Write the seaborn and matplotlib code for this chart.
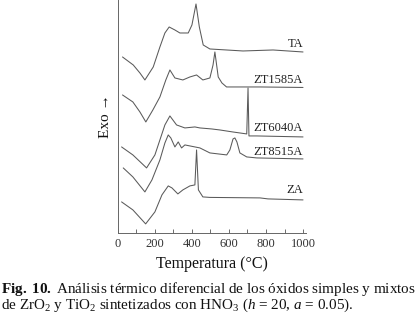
import matplotlib
matplotlib.use("Agg")
import matplotlib.pyplot as plt
import seaborn as sns

# DTA curves (temperature in °C, signal in arbitrary units incl. offset)
ta_temp = [25, 83, 119, 146, 191, 227, 254, 277, 308, 335, 380, 400, 422, 440, 461, 497, 676, 838, 1000]
ta_signal = [176, 168, 160, 153, 166, 186, 200, 206, 203, 200, 200, 208, 229, 206, 188, 184, 182, 183, 181]

zt1585_temp = [25, 81, 119, 151, 189, 227, 259, 281, 308, 351, 389, 425, 459, 497, 514, 524, 542, 562, 587, 768, 1000]
zt1585_signal = [138, 131, 121, 111, 123, 136, 153, 163, 155, 153, 156, 158, 153, 155, 168, 181, 156, 150, 146, 146, 145.5]

zt6040_temp = [20, 81, 155, 200, 254, 281, 317, 362, 416, 443, 506, 550, 620, 696, 703, 708, 750, 1000]
zt6040_signal = [86, 78, 65, 78, 108, 117, 108, 105, 106, 105, 104, 103, 101, 99, 145, 97, 97, 96]

zt8515_temp = [29, 81, 146, 184, 227, 254, 272, 286, 308, 326, 344, 362, 443, 497, 588, 605, 622, 632, 643, 659, 696, 750, 1000]
zt8515_signal = [65, 56, 41, 53, 73, 90, 98, 95, 86, 91, 85, 88, 85, 80, 78, 83, 94, 95, 91, 80, 76, 75, 74]

za_temp = [20, 81, 150, 200, 238, 272, 292, 324, 351, 389, 416, 425, 435, 459, 497, 768, 811, 1000]
za_signal = [31, 23, 9, 21, 38, 47, 45, 39, 43, 47, 48, 83, 43, 36, 35.5, 35, 34, 33]

curve_names = ["TA", "ZT1585A", "ZT6040A", "ZT8515A", "ZA"]
label_levels = [189, 153, 105, 81, 43]

sns.set_theme(style="white")
plt.rcParams["font.family"] = ["Liberation Serif", "DejaVu Serif"]
plt.rcParams["mathtext.fontset"] = "custom"
plt.rcParams["mathtext.rm"] = "Liberation Serif"
plt.rcParams["mathtext.it"] = "Liberation Serif:italic"
plt.rcParams["mathtext.bf"] = "Liberation Serif:bold"

fig = plt.figure(figsize=(4.18, 3.16), dpi=100)
ax = fig.add_axes([0.282, 0.263, 0.45, 0.737])

curves = [(ta_temp, ta_signal), (zt1585_temp, zt1585_signal), (zt6040_temp, zt6040_signal),
          (zt8515_temp, zt8515_signal), (za_temp, za_signal)]
for (t, s), name, lvl in zip(curves, curve_names, label_levels):
    sns.lineplot(x=t, y=s, ax=ax, color="#5a5a5a", linewidth=0.75, estimator=None)
    ax.text(1000, lvl, name, ha="right", va="center", fontsize=9, color="#222222")

ax.set_xlim(0, 1016)
ax.set_ylim(0, 233)
ax.set_xticks(range(0, 1001, 200))
ax.set_xticks(range(0, 1001, 100), minor=True)
ax.set_yticks([])
ax.tick_params(axis="x", which="both", direction="in", length=3, width=0.6,
               colors="#555555", labelcolor="#333333", labelsize=9, pad=4, bottom=True)
for side in ["top", "right"]:
    ax.spines[side].set_visible(False)
for side in ["left", "bottom"]:
    ax.spines[side].set_color("#666666")
    ax.spines[side].set_linewidth(0.7)
ax.set_xlabel("Temperatura (°C)", fontsize=11.5, labelpad=4, color="#111111")
ax.set_ylabel("Exo →", fontsize=11, labelpad=4, color="#111111")

fig.text(0.003, 0.087, r"$\mathbf{Fig.\ 10.}$ Análisis térmico diferencial de los óxidos simples y mixtos",
         fontsize=10.9, ha="left", va="center", color="#111111")
fig.text(0.003, 0.033, r"de ZrO$_2$ y TiO$_2$ sintetizados con HNO$_3$ ($h$ = 20, $a$ = 0.05).",
         fontsize=10.9, ha="left", va="center", color="#111111")

fig.savefig("out.png", dpi=100)
